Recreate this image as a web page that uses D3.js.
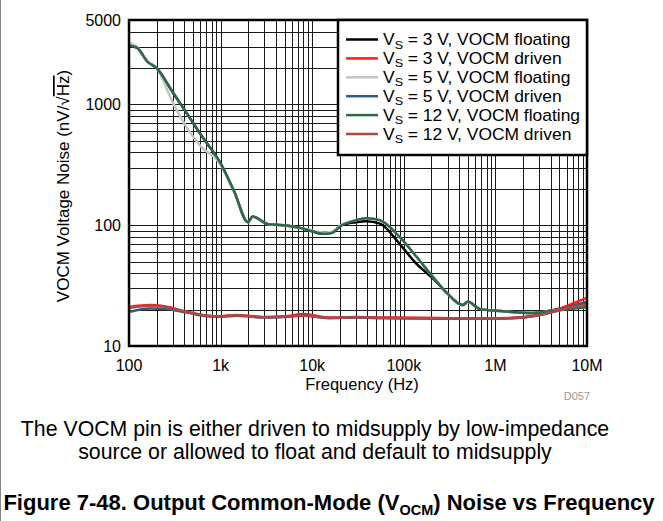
<!DOCTYPE html>
<html lang="en">
  <head>
    <meta charset="UTF-8" />
    <title>VOCM Noise vs Frequency</title>
    <script src="https://d3js.org/d3.v7.min.js"></script>
    <style>
      body { margin: 0; background: #fff; }
      svg { display: block; font-family: "Liberation Sans", Arial, sans-serif; }
    </style>
  </head>
  <body>
    <div class="chart"></div>
  </body>

  <script>
    // frequencies (Hz) for the floating-VOCM curves
    var freqFloat = [100, 122, 160, 200, 300, 430, 600, 1000, 1400, 1990, 2240, 3300, 4800, 7400, 10000, 13000, 16000,
      21000, 30000, 39000, 55000, 90000, 137000, 210000, 295000, 440000, 500000, 680000, 1100000, 2600000, 4200000, 10000000];
    var vs3Float = [3080, 2950, 2250, 2000, 1260, 840, 570, 325, 192, 106, 118, 102, 100, 95, 89, 85, 86,
      100, 106, 108, 103, 70, 48, 36, 27.5, 21.8, 23.2, 20.2, 19.5, 18.8, 19.8, 23];
    var vs5Float = [3250, 3000, 2250, 2000, 1040, 640, 455, 318, 190, 106, 118, 102, 100, 95, 90, 87, 88,
      101, 110, 114, 110, 80, 55, 37, 27.5, 21.5, 23, 20.2, 19.5, 18.8, 19.6, 21.5];
    var vs12Float = [3080, 2950, 2250, 2000, 1260, 840, 570, 325, 192, 106, 118, 102, 100, 95, 89, 85, 86,
      100, 110, 114, 110, 80, 55, 37, 27.5, 21.8, 23.2, 20.2, 19.5, 18.8, 19.5, 21];

    // frequencies (Hz) for the driven-VOCM curves
    var freqDriven = [100, 170, 250, 430, 710, 1000, 1500, 2000, 2900, 5000, 8000, 15000, 30000, 60000, 150000,
      400000, 800000, 1500000, 2800000, 4700000, 7000000, 10000000];
    var vs3Driven = [21, 21.8, 21.2, 19.2, 17.8, 17.6, 18.1, 17.8, 17.4, 17.6, 18.4, 17.2, 17.4, 17.2, 17.1,
      17.0, 17.0, 17.1, 18.0, 20.0, 22.5, 25];
    var vs5Driven = [19.1, 20.4, 20.2, 18.9, 17.6, 17.5, 17.8, 17.6, 17.2, 17.4, 17.9, 17.0, 17.2, 17.0, 16.9,
      16.8, 16.8, 17.0, 17.8, 19.6, 21.5, 23.2];
    var vs12Driven = [20.6, 21.5, 21, 19.1, 17.8, 17.6, 18.0, 17.7, 17.3, 17.5, 17.8, 17.1, 17.3, 17.1, 17.0,
      16.9, 16.9, 17.0, 17.9, 19.5, 21, 22.2];

    var xTicks = [100, 1e3, 1e4, 1e5, 1e6, 1e7];
    var xTickLabels = ["100", "1k", "10k", "100k", "1M", "10M"];
    var yTicks = [10, 100, 1000, 5000];
    var yTickLabels = ["10", "100", "1000", "5000"];

    var series = [
      { vs: "3", mode: "floating", color: "#000000", f: freqFloat, v: vs3Float },
      { vs: "3", mode: "driven", color: "#ff1a1a", f: freqDriven, v: vs3Driven },
      { vs: "5", mode: "floating", color: "#c4c4c4", f: freqFloat, v: vs5Float },
      { vs: "5", mode: "driven", color: "#2f5e7c", f: freqDriven, v: vs5Driven },
      { vs: "12", mode: "floating", color: "#2b6a48", f: freqFloat, v: vs12Float },
      { vs: "12", mode: "driven", color: "#b04646", f: freqDriven, v: vs12Driven }
    ];

    var W = 663, H = 521;
    var plot = { left: 129, right: 587, top: 20, bottom: 346 };

    var svg = d3.select(".chart").append("svg").attr("width", W).attr("height", H);
    svg.append("rect").attr("width", W).attr("height", H).attr("fill", "#fff");
    svg.append("line").attr("x1", 0.5).attr("x2", 0.5).attr("y1", 0).attr("y2", H)
      .attr("stroke", "#888").attr("stroke-width", 1);

    var x = d3.scaleLog().domain([100, 1e7]).range([plot.left, plot.right]);
    var y = d3.scaleLog().domain([10, 5000]).range([plot.bottom, plot.top]);

    // text drawn with a slight horizontal stretch like the original figure
    function label(px, py, sx, size) {
      return svg.append("g").attr("transform", "translate(" + px + "," + py + ") scale(" + sx + ",1)")
        .append("text").attr("font-size", size);
    }

    // grid: every major and minor decade line
    var xGrid = [], yGrid = [];
    for (var d = 100; d < 1e7; d *= 10) for (var k = 1; k < 10; k++) xGrid.push(d * k);
    xGrid.push(1e7);
    for (var d = 10; d < 5000; d *= 10) for (var k = 1; k < 10; k++) if (d * k <= 5000) yGrid.push(d * k);

    var grid = svg.append("g").attr("stroke", "#1a1a1a").attr("stroke-width", 1);
    grid.selectAll(".gx").data(xGrid).join("line")
      .attr("x1", (f) => Math.round(x(f)) + 0.5).attr("x2", (f) => Math.round(x(f)) + 0.5)
      .attr("y1", plot.top).attr("y2", plot.bottom);
    grid.selectAll(".gy").data(yGrid).join("line")
      .attr("y1", (v) => Math.round(y(v)) + 0.5).attr("y2", (v) => Math.round(y(v)) + 0.5)
      .attr("x1", plot.left).attr("x2", plot.right);

    // curves
    var line = d3.line().curve(d3.curveMonotoneX);
    series.forEach(function (s) {
      var pts = s.f.map((f, i) => [x(f), y(s.v[i])]);
      svg.append("path").attr("d", line(pts)).attr("fill", "none")
        .attr("stroke", s.color).attr("stroke-width", 2.5).attr("stroke-linejoin", "round");
    });

    // frame
    svg.append("rect").attr("x", plot.left).attr("y", plot.top)
      .attr("width", plot.right - plot.left).attr("height", plot.bottom - plot.top)
      .attr("fill", "none").attr("stroke", "#000").attr("stroke-width", 2.5);

    // tick labels
    svg.selectAll(".xt").data(xTicks).join("text")
      .attr("x", (f) => x(f)).attr("y", 371).attr("text-anchor", "middle")
      .attr("font-size", 16).text((f, i) => xTickLabels[i]);
    svg.selectAll(".yt").data(yTicks).join("text")
      .attr("x", 121).attr("y", (v) => y(v) + 6).attr("text-anchor", "end")
      .attr("font-size", 16).text((v, i) => yTickLabels[i]);

    // axis titles
    svg.append("text").attr("x", 362).attr("y", 390)
      .attr("text-anchor", "middle").attr("font-size", 16.5).text("Frequency (Hz)");
    var yt = svg.append("text").attr("transform", "translate(69,186) rotate(-90)")
      .attr("text-anchor", "middle").attr("font-size", 17);
    yt.append("tspan").text("VOCM Voltage Noise (nV/\u221A");
    yt.append("tspan").style("text-decoration", "overline").text("Hz");
    yt.append("tspan").text(")");

    svg.append("text").attr("x", 590).attr("y", 400).attr("text-anchor", "end")
      .attr("font-size", 11).attr("fill", "#999").text("D057");

    // legend
    var lg = svg.append("g");
    lg.append("rect").attr("x", 338).attr("y", 20).attr("width", 249).attr("height", 135)
      .attr("fill", "#fff").attr("stroke", "#000").attr("stroke-width", 2.5);
    series.forEach(function (s, i) {
      var ly = 39.5 + i * 18.9;
      lg.append("line").attr("x1", 346).attr("x2", 378).attr("y1", ly).attr("y2", ly)
        .attr("stroke", s.color).attr("stroke-width", 2.5);
      var t = label(383, ly + 5.5, 1.09, 16);
      t.append("tspan").text("V");
      t.append("tspan").attr("font-size", 11.5).attr("dy", 3.5).text("S");
      t.append("tspan").attr("dy", -3.5).text(" = " + s.vs + " V, VOCM " + s.mode);
    });

    // caption
    svg.append("text").attr("x", 315).attr("y", 436).attr("text-anchor", "middle")
      .attr("font-size", 21.3).text("The VOCM pin is either driven to midsupply by low-impedance");
    svg.append("text").attr("x", 315).attr("y", 459).attr("text-anchor", "middle")
      .attr("font-size", 21.3).text("source or allowed to float and default to midsupply");

    var ft = svg.append("text").attr("x", 329).attr("y", 510).attr("text-anchor", "middle")
      .attr("font-size", 22).attr("font-weight", "bold");
    ft.append("tspan").text("Figure 7-48. Output Common-Mode (V");
    ft.append("tspan").attr("font-size", 14.5).attr("dy", 5).text("OCM");
    ft.append("tspan").attr("dy", -5).text(") Noise vs Frequency");
  </script>
</html>
